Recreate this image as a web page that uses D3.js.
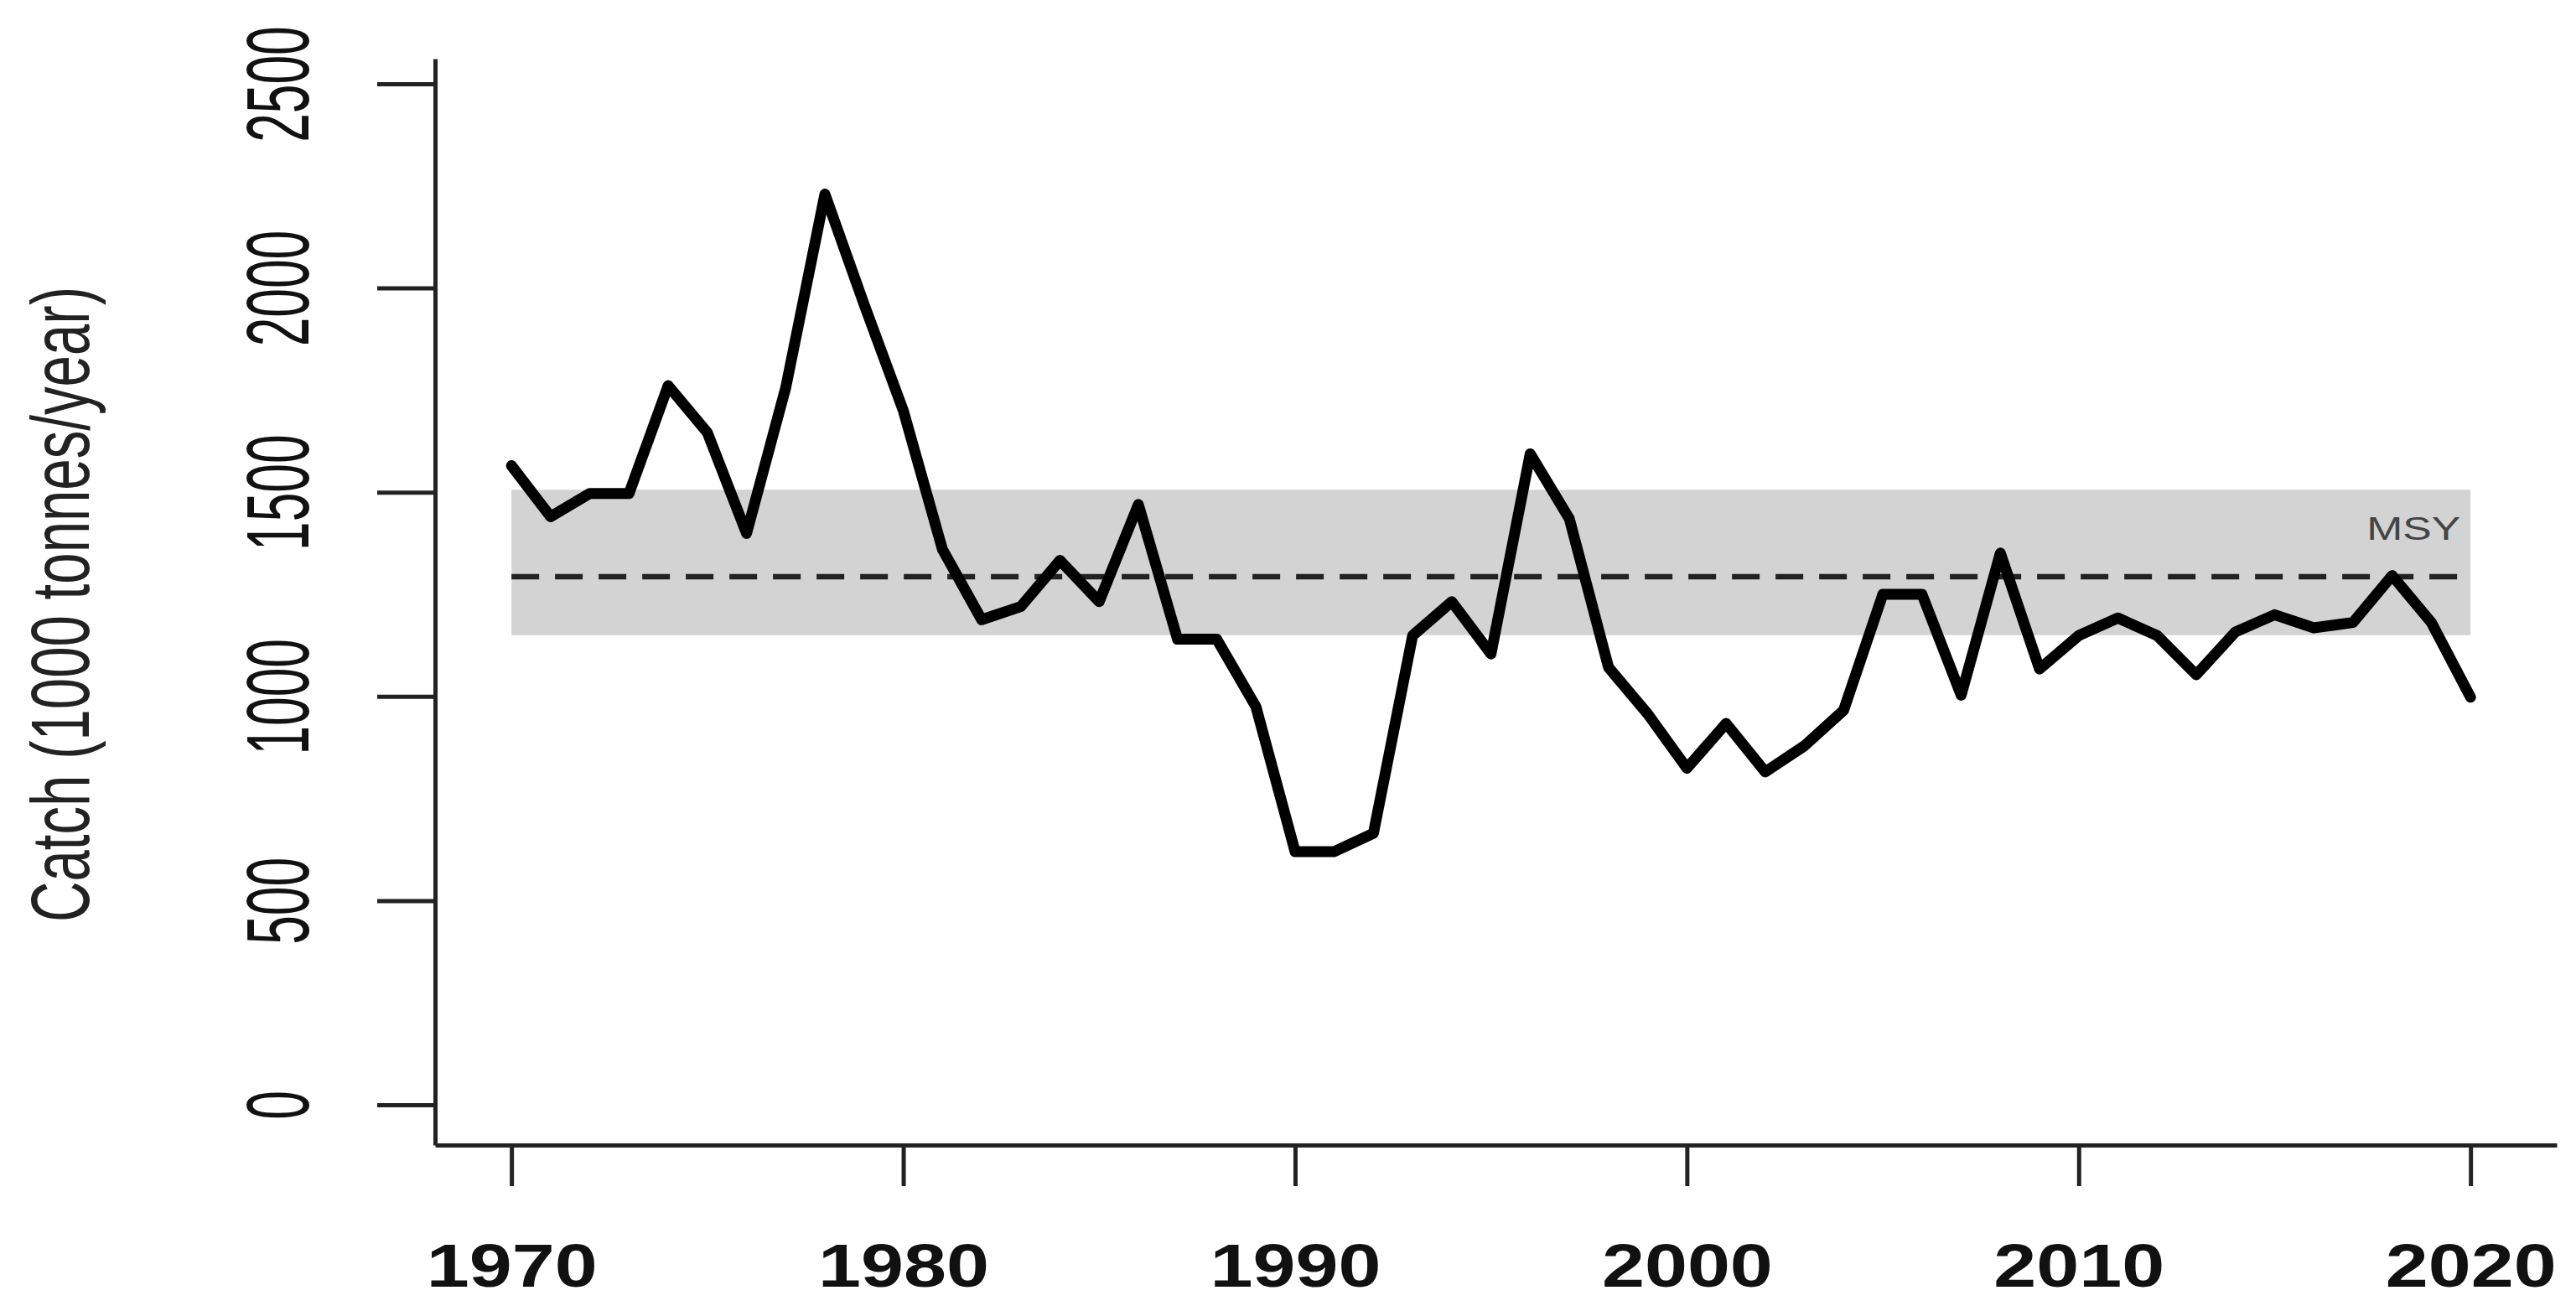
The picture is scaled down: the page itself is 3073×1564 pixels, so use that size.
<!DOCTYPE html>
<html>
<head>
<meta charset="utf-8">
<script src="https://cdn.jsdelivr.net/npm/d3@7"></script>
<style>
	body { margin: 0; background: #fff; }
	svg text { font-family: 'Liberation Sans', Arial, sans-serif; }
</style>
</head>
<body>
<div id="chart"></div>
<script>
const years = [
	1970, 1971, 1972, 1973, 1974, 1975, 1976, 1977, 1978, 1979,
	1980, 1981, 1982, 1983, 1984, 1985, 1986, 1987, 1988, 1989,
	1990, 1991, 1992, 1993, 1994, 1995, 1996, 1997, 1998, 1999,
	2000, 2001, 2002, 2003, 2004, 2005, 2006, 2007, 2008, 2009,
	2010, 2011, 2012, 2013, 2014, 2015, 2016, 2017, 2018, 2019,
	2020
];
const catches = [
	1565, 1440, 1497, 1497, 1761, 1646, 1399, 1756, 2230, 1960,
	1700, 1360, 1188, 1220, 1333, 1232, 1470, 1140, 1140, 975,
	620, 620, 665, 1149, 1232, 1104, 1594, 1435, 1071, 957,
	824, 934, 815, 879, 966, 1250, 1250, 1003, 1351, 1067,
	1149, 1192, 1149, 1053, 1158, 1200, 1168, 1181, 1296, 1181,
	998
];
const msy = 1293;
const msyBand = [1150, 1506];
const msyYears = [1970, 2020];
const msyLabel = 'MSY';
const yTicks = [0, 500, 1000, 1500, 2000, 2500];
const xTicks = [1970, 1980, 1990, 2000, 2010, 2020];
const yTitle = 'Catch (1000 tonnes/year)';

const width = 3073, height = 1564;
const plot = { left: 519, right: 3050, top: 70, bottom: 1366 };

const svg = d3.select('#chart').append('svg')
	.attr('width', width)
	.attr('height', height)
	.style('display', 'block');

const x = d3.scaleLinear().domain([1968.05, 2022.2]).range([plot.left, plot.right]);
const y = d3.scaleLinear().domain([-98.5, 2561.6]).range([plot.bottom, plot.top]);

// MSY range and reference line
svg.append('rect')
	.attr('x', x(msyYears[0]))
	.attr('width', x(msyYears[1]) - x(msyYears[0]))
	.attr('y', y(msyBand[1]))
	.attr('height', y(msyBand[0]) - y(msyBand[1]))
	.attr('fill', '#d3d3d3');

svg.append('path')
	.datum(msyYears.map(d => [d, msy]))
	.attr('d', d3.line().x(d => x(d[0])).y(d => y(d[1])))
	.attr('fill', 'none')
	.attr('stroke', '#222')
	.attr('stroke-width', 6.5)
	.attr('stroke-dasharray', '33,19');

svg.append('text')
	.attr('x', x(msyYears[1]) - 12)
	.attr('y', y(msy) - 44)
	.attr('text-anchor', 'end')
	.attr('font-size', 38)
	.attr('textLength', 112)
	.attr('lengthAdjust', 'spacingAndGlyphs')
	.attr('fill', '#444')
	.text(msyLabel);

// catch series
const line = d3.line()
	.x((d, i) => x(years[i]))
	.y(d => y(d));

svg.append('path')
	.datum(catches)
	.attr('d', line)
	.attr('fill', 'none')
	.attr('stroke', '#000')
	.attr('stroke-width', 13)
	.attr('stroke-linejoin', 'round')
	.attr('stroke-linecap', 'round');

// axes
const yAxis = svg.append('g')
	.attr('transform', `translate(${plot.left},0)`)
	.style('color', '#222')
	.call(d3.axisLeft(y).tickValues(yTicks).tickSize(69).tickSizeOuter(0).tickFormat(d3.format('d')));
yAxis.select('.domain').attr('stroke-width', 5);
yAxis.selectAll('.tick line').attr('stroke-width', 5);
yAxis.selectAll('.tick text')
	.attr('x', null)
	.attr('dy', null)
	.attr('transform', 'translate(-151,0) rotate(-90) scale(0.593,1)')
	.attr('text-anchor', 'middle')
	.attr('font-size', 105)
	.attr('fill', '#111');

const xAxis = svg.append('g')
	.attr('transform', `translate(0,${plot.bottom})`)
	.style('color', '#222')
	.call(d3.axisBottom(x).tickValues(xTicks).tickSize(49).tickSizeOuter(0).tickFormat(d3.format('d')));
xAxis.select('.domain').attr('stroke-width', 5);
xAxis.selectAll('.tick line').attr('stroke-width', 5);
xAxis.selectAll('.tick text')
	.attr('y', 169)
	.attr('dy', null)
	.attr('font-size', 72.6)
	.attr('font-weight', 'bold')
	.attr('textLength', 204)
	.attr('lengthAdjust', 'spacingAndGlyphs')
	.attr('fill', '#111');
svg.selectAll('g').attr('font-family', "'Liberation Sans', Arial, sans-serif");

svg.append('text')
	.attr('transform', 'translate(106,721) rotate(-90)')
	.attr('text-anchor', 'middle')
	.attr('font-size', 99)
	.attr('textLength', 758)
	.attr('lengthAdjust', 'spacingAndGlyphs')
	.attr('fill', '#222')
	.text(yTitle);
</script>
</body>
</html>
